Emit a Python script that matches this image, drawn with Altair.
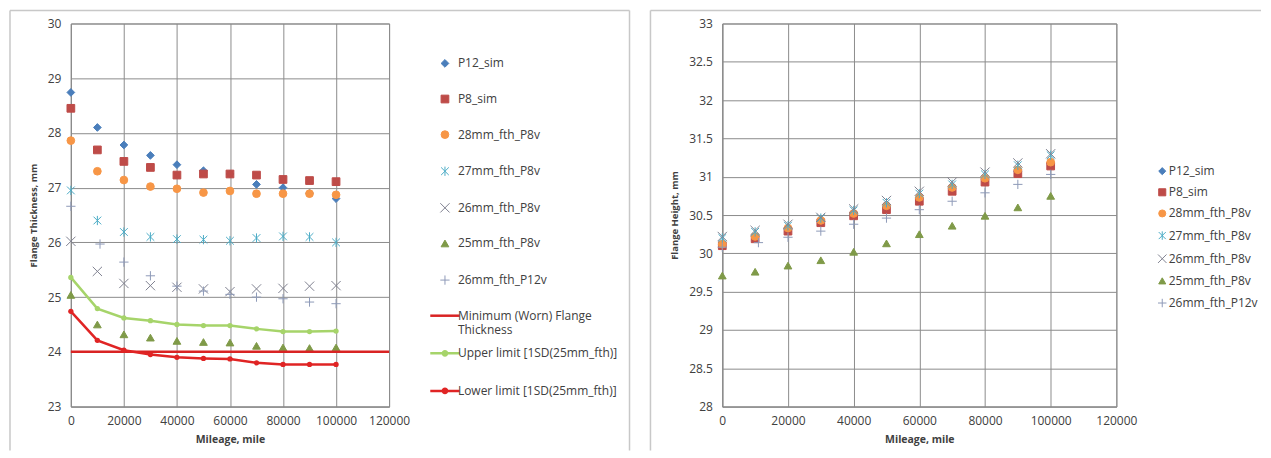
import altair as alt
import pandas as pd

# ---------------- data ----------------
mileage = [0, 10000, 20000, 30000, 40000, 50000, 60000, 70000, 80000, 90000, 100000]
mileage_p12v = [0, 11000, 20000, 30000, 40000, 50000, 60000, 70000, 80000, 90000, 100000]

point_series = ["P12_sim", "P8_sim", "28mm_fth_P8v", "27mm_fth_P8v",
                "26mm_fth_P8v", "25mm_fth_P8v", "26mm_fth_P12v"]
line_series = ["Minimum (Worn) Flange Thickness", "Upper limit [1SD(25mm_fth)]",
               "Lower limit [1SD(25mm_fth)]"]

# Left chart: flange thickness, mm
ft_p12_sim = [28.74, 28.10, 27.78, 27.59, 27.42, 27.31, 27.25, 27.06, 27.00, 26.90, 26.80]
ft_p8_sim = [28.45, 27.69, 27.48, 27.37, 27.23, 27.25, 27.25, 27.23, 27.15, 27.13, 27.11]
ft_28_p8v = [27.86, 27.30, 27.14, 27.02, 26.98, 26.91, 26.94, 26.89, 26.89, 26.89, 26.87]
ft_27_p8v = [26.95, 26.40, 26.19, 26.10, 26.06, 26.05, 26.03, 26.08, 26.11, 26.10, 26.00]
ft_26_p8v = [26.02, 25.47, 25.25, 25.21, 25.18, 25.15, 25.10, 25.15, 25.16, 25.20, 25.21]
ft_25_p8v = [25.04, 24.50, 24.32, 24.26, 24.20, 24.18, 24.17, 24.11, 24.08, 24.07, 24.08]
ft_26_p12v = [26.66, 25.97, 25.64, 25.39, 25.20, 25.11, 25.05, 25.00, 24.97, 24.91, 24.88]
ft_upper = [25.36, 24.79, 24.62, 24.57, 24.50, 24.48, 24.48, 24.42, 24.37, 24.37, 24.38]
ft_lower = [24.74, 24.21, 24.03, 23.95, 23.90, 23.88, 23.87, 23.80, 23.77, 23.77, 23.77]
min_mileage = [0, 120000]
min_thickness = [24.0, 24.0]

# Right chart: flange height, mm
fh_p12_sim = [30.12, 30.22, 30.31, 30.42, 30.51, 30.60, 30.71, 30.84, 30.96, 31.07, 31.17]
fh_p8_sim = [30.10, 30.19, 30.29, 30.40, 30.49, 30.57, 30.68, 30.81, 30.93, 31.04, 31.14]
fh_28_p8v = [30.12, 30.22, 30.33, 30.43, 30.52, 30.62, 30.73, 30.86, 30.98, 31.09, 31.19]
fh_27_p8v = [30.20, 30.28, 30.36, 30.46, 30.56, 30.66, 30.78, 30.90, 31.03, 31.15, 31.28]
fh_26_p8v = [30.22, 30.30, 30.38, 30.47, 30.58, 30.69, 30.81, 30.93, 31.06, 31.18, 31.30]
fh_25_p8v = [29.71, 29.76, 29.84, 29.91, 30.02, 30.13, 30.25, 30.36, 30.49, 30.60, 30.75]
fh_26_p12v = [30.08, 30.14, 30.21, 30.29, 30.38, 30.46, 30.57, 30.68, 30.79, 30.90, 31.03]

x_ticks = [0, 20000, 40000, 60000, 80000, 100000, 120000]
ft_ticks = [23, 24, 25, 26, 27, 28, 29, 30]
fh_ticks = [28, 28.5, 29, 29.5, 30, 30.5, 31, 31.5, 32, 32.5, 33]

# ---------------- styling ----------------
FONT = "Open Sans"
TXT = "#404040"
GRID = "#8c8c8c"
ASTER = "M0,-1.2L0,1.2M-1,-1L1,1M-1,1L1,-1"
XMARK = "M-1.2,-1.2L1.2,1.2M-1.2,1.2L1.2,-1.2"
PLUS = "M-1.2,0L1.2,0M0,-1.2L0,1.2"
LINE = "M-3.8,0L3.8,0"
LINE_DOT = "M-3.8,0L3.8,0M0.55,0A0.55,0.55 0 1,1 -0.55,0A0.55,0.55 0 1,1 0.55,0"

pt_colors = ["#4a7ebb", "#be4b48", "#f79646", "#4bacc6", "#7f8190", "#7f9a48", "#8e9ab8"]
pt_shapes = ["diamond", "square", "circle", ASTER, XMARK, "triangle-up", PLUS]
MIN_RED = "#d92323"
GREEN = "#a6d46a"
LOW_RED = "#e02424"


def long_df(xs_list, ys_list, names):
    rows = []
    for xs, ys, n in zip(xs_list, ys_list, names):
        for i, (xv, yv) in enumerate(zip(xs, ys)):
            rows.append({"mileage": xv, "value": yv, "series": n, "idx": i})
    return pd.DataFrame(rows)


def make_axes(ticks_y, title_y):
    xa = alt.Axis(values=x_ticks, format="d", title="Mileage, mile", grid=True,
                  gridColor=GRID, domainColor=GRID, ticks=False, labelPadding=9,
                  titlePadding=8, labelFont=FONT, labelFontSize=12, labelColor=TXT,
                  titleFont=FONT, titleFontSize=10.5, titleFontWeight="bold", titleColor=TXT,
                  labelFlush=False)
    ya = alt.Axis(values=ticks_y, format="~g", title=title_y, grid=True,
                  gridColor=GRID, domainColor=GRID, ticks=False, labelPadding=10,
                  titlePadding=9, labelFont=FONT, labelFontSize=12, labelColor=TXT,
                  titleFont=FONT, titleFontSize=9.5, titleFontWeight="bold", titleColor=TXT)
    return xa, ya


# ---------------- left chart ----------------
all_left = point_series + line_series
left_pts = long_df([mileage] * 6 + [mileage_p12v],
                   [ft_p12_sim, ft_p8_sim, ft_28_p8v, ft_27_p8v, ft_26_p8v, ft_25_p8v, ft_26_p12v],
                   point_series)
left_lines = long_df([min_mileage, mileage, mileage],
                     [min_thickness, ft_upper, ft_lower], line_series)

lx = alt.Scale(domain=[0, 120000], nice=False)
ly = alt.Scale(domain=[23, 30], nice=False)
xa_l, ya_l = make_axes(ft_ticks, "Flange Thickness, mm")

leg_l = alt.Legend(title=None, orient="none", legendX=369, legendY=34, padding=0,
                   rowPadding=9.7, labelOffset=7, symbolSize=60, labelFont=FONT,
                   labelFontSize=12, labelColor=TXT, labelLimit=300,
                   labelExpr="datum.label == 'Minimum (Worn) Flange Thickness' ? ['Minimum (Worn) Flange', 'Thickness'] : [datum.label, '']")

shape_l = alt.Shape("series:N", scale=alt.Scale(domain=all_left, range=pt_shapes + [LINE, LINE_DOT, LINE_DOT]), legend=leg_l)
fill_l = alt.Fill("series:N", scale=alt.Scale(domain=all_left, range=pt_colors + ["transparent", GREEN, LOW_RED]), legend=leg_l)
stroke_l = alt.Stroke("series:N", scale=alt.Scale(domain=all_left, range=pt_colors + [MIN_RED, GREEN, LOW_RED]), legend=leg_l)
sw_l = alt.StrokeWidth("series:N", scale=alt.Scale(type="ordinal", domain=all_left, range=[1] * 7 + [2.5, 2.5, 2.5]), legend=leg_l)

pts_l = alt.Chart(left_pts).mark_point(size=60, opacity=1, fillOpacity=1).encode(
    x=alt.X("mileage:Q", scale=lx, axis=xa_l),
    y=alt.Y("value:Q", scale=ly, axis=ya_l),
    shape=shape_l, fill=fill_l, stroke=stroke_l, strokeWidth=sw_l,
)

lines_l = alt.Chart(left_lines).mark_line().encode(
    x=alt.X("mileage:Q", scale=lx),
    y=alt.Y("value:Q", scale=ly),
    stroke=stroke_l, strokeWidth=sw_l, detail="series:N", order="idx:Q",
)

up_pts = alt.Chart(left_lines).transform_filter(
    alt.datum.series == line_series[1]).mark_point(
    shape="circle", filled=True, size=28, opacity=1, color=GREEN).encode(
    x=alt.X("mileage:Q", scale=lx), y=alt.Y("value:Q", scale=ly))
low_pts = alt.Chart(left_lines).transform_filter(
    alt.datum.series == line_series[2]).mark_point(
    shape="circle", filled=True, size=28, opacity=1, color=LOW_RED).encode(
    x=alt.X("mileage:Q", scale=lx), y=alt.Y("value:Q", scale=ly))

frame = pd.DataFrame({"k": [0]})
border_l = alt.layer(
    alt.Chart(frame).mark_rule(color="#c8c8c8", strokeWidth=1.5).encode(
        x=alt.value(-61), x2=alt.value(560), y=alt.value(-13)),
    alt.Chart(frame).mark_rule(color="#c8c8c8", strokeWidth=1.5).encode(
        x=alt.value(-61), y=alt.value(-13), y2=alt.value(428)),
    alt.Chart(frame).mark_rule(color="#c8c8c8", strokeWidth=1.5).encode(
        x=alt.value(560), y=alt.value(-13), y2=alt.value(428)),
)

left = alt.layer(border_l, pts_l, lines_l, up_pts, low_pts).properties(width=319, height=384)

# ---------------- right chart ----------------
right_pts = long_df([mileage] * 6 + [mileage_p12v],
                    [fh_p12_sim, fh_p8_sim, fh_28_p8v, fh_27_p8v, fh_26_p8v, fh_25_p8v, fh_26_p12v],
                    point_series)
rx = alt.Scale(domain=[0, 120000], nice=False)
ry = alt.Scale(domain=[28, 33], nice=False)
xa_r, ya_r = make_axes(fh_ticks, "Flange Height, mm")

leg_r = alt.Legend(title=None, orient="none", legendX=435, legendY=142, padding=0,
                   rowPadding=9.2, labelOffset=0.5, symbolSize=50, labelFont=FONT,
                   labelFontSize=12, labelColor=TXT, labelLimit=300, symbolStrokeWidth=1)

pts_r = alt.Chart(right_pts).mark_point(size=60, opacity=1, fillOpacity=1, strokeWidth=1).encode(
    x=alt.X("mileage:Q", scale=rx, axis=xa_r),
    y=alt.Y("value:Q", scale=ry, axis=ya_r),
    shape=alt.Shape("series:N", scale=alt.Scale(domain=point_series, range=pt_shapes), legend=leg_r),
    fill=alt.Fill("series:N", scale=alt.Scale(domain=point_series, range=pt_colors), legend=leg_r),
    stroke=alt.Stroke("series:N", scale=alt.Scale(domain=point_series, range=pt_colors), legend=leg_r),
)

border_r = alt.layer(
    alt.Chart(frame).mark_rule(color="#c8c8c8", strokeWidth=1.5).encode(
        x=alt.value(-72), x2=alt.value(540), y=alt.value(-13)),
    alt.Chart(frame).mark_rule(color="#c8c8c8", strokeWidth=1.5).encode(
        x=alt.value(-72), y=alt.value(-13), y2=alt.value(428)),
)

right = alt.layer(border_r, pts_r).properties(width=395, height=384)

chart = alt.hconcat(left, right, spacing=334, bounds="flush").resolve_scale(
    shape="independent", fill="independent", stroke="independent",
    strokeWidth="independent", x="independent", y="independent"
).properties(padding=0).configure_view(stroke=GRID)

chart.save("out.html", embed_options={"renderer": "svg", "actions": False})
